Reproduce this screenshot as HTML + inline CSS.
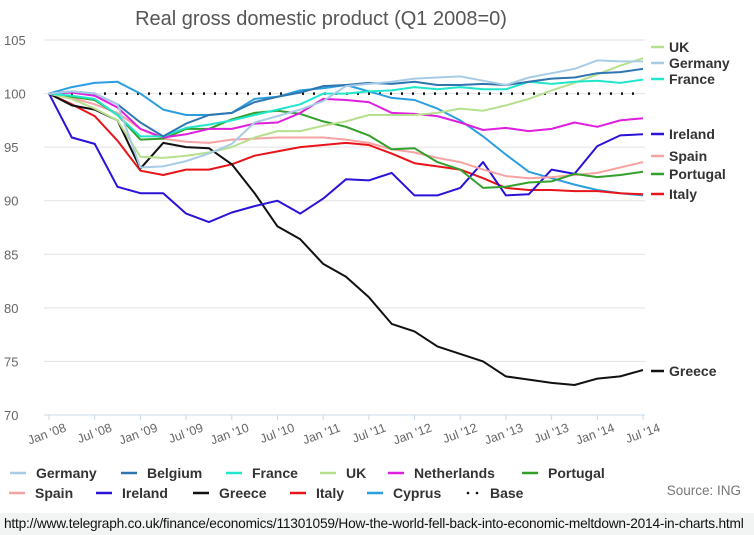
<!DOCTYPE html>
<html><head><meta charset="utf-8">
<style>
html,body{margin:0;padding:0;background:#fff;}
body{width:754px;height:535px;overflow:hidden;position:relative;font-family:"Liberation Sans",sans-serif;}
#url{position:absolute;left:0;top:513px;width:754px;height:22px;background:#f2f3f3;font-size:13.7px;line-height:22px;color:#111;padding-left:4px;box-sizing:border-box;letter-spacing:-0.2px;white-space:nowrap}
</style></head>
<body>
<svg id="chart" width="754" height="513" style="position:absolute;left:0;top:0"></svg>
<div id="url">http://www.telegraph.co.uk/finance/economics/11301059/How-the-world-fell-back-into-economic-meltdown-2014-in-charts.html</div>
<script>
const xLabels=["Jan '08","Jul '08","Jan '09","Jul '09","Jan '10","Jul '10","Jan '11","Jul '11","Jan '12","Jul '12","Jan '13","Jul '13","Jan '14","Jul '14"];
const yTicks=[70,75,80,85,90,95,100,105];
const germany=[100,100.2,100,99,93.1,93.2,93.7,94.4,95.3,97.3,97.9,98.5,99.3,100.7,100.9,101.1,101.4,101.5,101.6,101.2,100.8,101.5,101.9,102.3,103.1,103,103];
const belgium=[100,100.2,100,99,97.3,96,97.2,98,98.2,99.2,99.7,100.1,100.7,100.8,101,100.9,101.1,100.8,100.8,100.9,100.8,101.1,101.4,101.5,101.9,102,102.3];
const france=[100,99.8,99.5,98,96,96,96.8,97.1,97.5,98,98.5,99,100,100,100.2,100.3,100.6,100.4,100.6,100.4,100.4,101.1,100.9,101.1,101.2,101,101.3];
const uk=[100,99.5,98.6,97.5,94.1,94,94.2,94.5,95,95.9,96.5,96.5,97,97.4,98,98,98,98.2,98.6,98.4,98.9,99.5,100.3,101,101.8,102.6,103.3];
const netherlands=[100,100.1,99.8,98.7,96.7,95.9,96.2,96.7,96.7,97.2,97.3,98.2,99.5,99.4,99.2,98.2,98.1,97.9,97.3,96.6,96.8,96.5,96.7,97.3,96.9,97.5,97.7];
const portugal=[100,99.7,99.4,98,95.7,95.8,96.7,96.7,97.6,98.2,98.4,98.1,97.4,96.9,96.1,94.8,94.9,93.6,92.9,91.2,91.3,91.7,91.8,92.5,92.2,92.4,92.7];
const spain=[100,99.6,99,98.2,96.7,95.8,95.5,95.4,95.7,95.8,95.9,95.9,95.9,95.7,95.4,94.8,94.5,94,93.6,92.9,92.3,92.1,92.2,92.4,92.6,93.1,93.6];
const ireland=[100,95.9,95.3,91.3,90.7,90.7,88.8,88,88.9,89.5,90,88.8,90.2,92,91.9,92.6,90.5,90.5,91.2,93.6,90.5,90.6,92.9,92.5,95.1,96.1,96.2];
const greece=[100,98.9,98.5,97.5,93,95.4,95,94.9,93.4,90.7,87.6,86.4,84.1,82.9,81,78.5,77.8,76.4,75.7,75,73.6,73.3,73,72.8,73.4,73.6,74.2];
const italy=[100,99,97.9,95.6,92.8,92.4,92.9,92.9,93.4,94.2,94.6,95,95.2,95.4,95.2,94.4,93.5,93.2,92.9,92.1,91.2,91,91,90.9,90.9,90.7,90.6];
const cyprus=[100,100.6,101,101.1,100,98.5,98,98,98.2,99.5,99.7,100.3,100.5,100.8,100.2,99.6,99.4,98.6,97.5,96,94.3,92.7,92.1,91.5,91,90.7,90.5];
const base=[100,100,100,100,100,100,100,100,100,100,100,100,100,100,100,100,100,100,100,100,100,100,100,100,100,100,100];
const series=[
 {n:"Germany",d:germany,c:"#a8cce6"},{n:"Belgium",d:belgium,c:"#2f76b0"},{n:"France",d:france,c:"#22e6cc"},
 {n:"UK",d:uk,c:"#b6e08e"},{n:"Netherlands",d:netherlands,c:"#e01ee0"},{n:"Portugal",d:portugal,c:"#33a02c"},
 {n:"Spain",d:spain,c:"#f5a3a3"},{n:"Ireland",d:ireland,c:"#2a12d8"},{n:"Greece",d:greece,c:"#111111"},
 {n:"Italy",d:italy,c:"#e81419"},{n:"Cyprus",d:cyprus,c:"#2b9ee0"},{n:"Base",d:base,c:"#111111",dot:true}];
const NS="http://www.w3.org/2000/svg";
const svg=document.getElementById('chart');
const X0=49,X1=643,Y70=415,Y105=40;
const x=i=>X0+(X1-X0)*i/26;
const y=v=>Y70-(v-70)*(Y70-Y105)/35;
function mk(t,a,p){const e=document.createElementNS(NS,t);for(const k in a)e.setAttribute(k,a[k]);(p||svg).appendChild(e);return e;}
const title=mk('text',{x:321,y:25,'text-anchor':'middle','font-size':20,fill:'#555'});


title.textContent="Real gross domestic product (Q1 2008=0)";
yTicks.forEach(v=>{
 const g=mk('line',{x1:44,x2:645,y1:y(v),y2:y(v),stroke:v===70?'#c8d8e8':'#e2e2e2','stroke-width':1});
 
 
 const t=mk('text',{x:4,y:y(v)+5,'font-size':13,fill:'#666'});
 
 
 t.textContent=v;
});
xLabels.forEach((l,k)=>{
 const xx=x(k*2);
 const tk=mk('line',{x1:xx,x2:xx,y1:415,y2:420,stroke:'#c8d8e8'});
 
 
 const t=mk('text',{x:xx+18,y:431,'text-anchor':'end','font-size':12.5,fill:'#666',transform:`rotate(-20 ${xx+18} 431)`});
 
 
 t.textContent=l;
});
series.slice().reverse().forEach(s=>{
 const pts=s.d.map((v,i)=>x(i).toFixed(1)+','+y(v).toFixed(1)).join(' ');
 const p=mk('polyline',{points:pts,fill:'none',stroke:s.c,'stroke-width':s.dot?2.5:2,'stroke-dasharray':s.dot?'2 9':'none','stroke-linejoin':'round'});
 
 
});
const endLabels=[["UK",47],["Germany",63],["France",79],["Ireland",134],["Spain",156],["Portugal",174],["Italy",194],["Greece",371]];
endLabels.forEach(([n,yy])=>{
 const s=series.find(q=>q.n===n);
 mk('line',{x1:651,x2:664,y1:yy,y2:yy,stroke:s.c,'stroke-width':2.5});
 const t=mk('text',{x:669,y:yy+5,'font-size':14,'font-weight':'bold',fill:'#333'});
 
 
 t.textContent=n;
});
const legX=[[36,147,252,346,414,548],[35,122,219,316,393,490]];
series.forEach((s,i)=>{
 const r=i<6?0:1, c=i%6, tx=legX[r][c], yy=r?493:473;
 const g=mk('g',{});
 
 
 if(s.dot){mk('circle',{cx:tx-22,cy:yy,r:1.3,fill:'#111'},g);mk('circle',{cx:tx-13,cy:yy,r:1.3,fill:'#111'},g);}
 else mk('line',{x1:tx-26,x2:tx-10,y1:yy,y2:yy,stroke:s.c,'stroke-width':2.5},g);
 const t=mk('text',{x:tx,y:yy+5,'font-size':14,'font-weight':'bold',fill:'#333'},g);
 t.textContent=s.n;
});
const src=mk('text',{x:741,y:495,'text-anchor':'end','font-size':13.5,fill:'#777'});


src.textContent="Source: ING";
</script>
</body></html>
